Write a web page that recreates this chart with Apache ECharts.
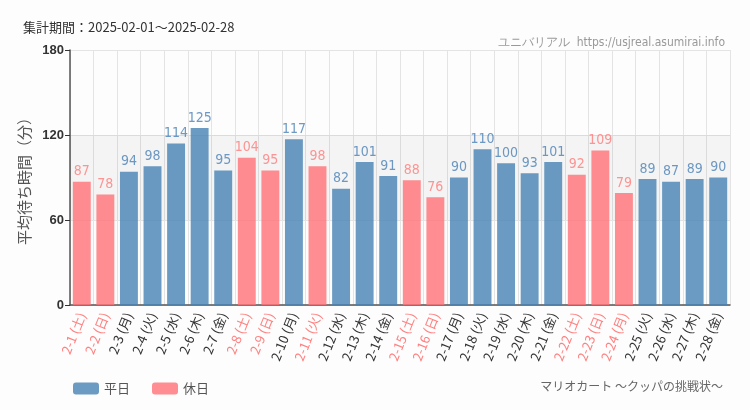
<!DOCTYPE html>
<html><head><meta charset="utf-8">
<script src="https://cdn.jsdelivr.net/npm/echarts@6/dist/echarts.min.js"></script>
<style>html,body{margin:0;padding:0;background:#fcfdfc;}#c{width:750px;height:410px;}</style>
</head><body><div id="c"></div>
<script>
const dates = ['2-1','2-2','2-3','2-4','2-5','2-6','2-7','2-8','2-9','2-10','2-11','2-12','2-13','2-14','2-15','2-16','2-17','2-18','2-19','2-20','2-21','2-22','2-23','2-24','2-25','2-26','2-27','2-28'];
const weekdays = ['土','日','月','火','水','木','金','土','日','月','火','水','木','金','土','日','月','火','水','木','金','土','日','月','火','水','木','金'];
const values = [87,78,94,98,114,125,95,104,95,117,98,82,101,91,88,76,90,110,100,93,101,92,109,79,89,87,89,90];
const holidays = [1,1,0,0,0,0,0,1,1,0,1,0,0,0,1,1,0,0,0,0,0,1,1,1,0,0,0,0];
const yTicks = [0,60,120,180];

const categories = dates.map((d,i)=>d+' ('+weekdays[i]+')');
const weekdaySeries = values.map((v,i)=>holidays[i]?'-':v);
const holidaySeries = values.map((v,i)=>holidays[i]?v:'-');

const chart = echarts.init(document.getElementById('c'), null, {renderer:'canvas'});
const narrow = '"DejaVu Sans Condensed", "Roboto", sans-serif';
const jp = '"Noto Sans CJK JP", sans-serif';
chart.setOption({
  backgroundColor:'#fcfdfc',
  animation:false,
  title:[
    {text:'集計期間：2025-02-01～2025-02-28', left:18, top:16, textStyle:{fontSize:13, fontWeight:'normal', color:'#333', fontFamily:jp}},
    {text:'ユニバリアル  https://usjreal.asumirai.info', right:20, top:32, textStyle:{fontSize:12, fontWeight:'normal', color:'#999', fontFamily:narrow}},
    {text:'マリオカート ～クッパの挑戦状～', right:22, top:375, textStyle:{fontSize:12, fontWeight:'normal', color:'#666', fontFamily:jp}}
  ],
  legend:{
    left:68, top:377, itemWidth:26, itemHeight:12, itemGap:22,
    textStyle:{fontSize:13, color:'#555', fontFamily:jp},
    data:['平日','休日']
  },
  grid:{left:70, right:20, top:50, bottom:105, containLabel:false},
  xAxis:{
    type:'category', data:categories,
    axisLine:{lineStyle:{color:'#555', width:1.5}},
    axisTick:{alignWithLabel:true, lineStyle:{color:'#333'}},
    splitLine:{show:true, interval:0, lineStyle:{color:'#e4e4e4'}},
    axisLabel:{
      interval:0, rotate:68, fontSize:13, margin:8,
      fontFamily:jp,
      color:(val, idx)=> holidays[idx] ? '#ff8080' : '#333'
    }
  },
  yAxis:{
    type:'value', min:0, max:180, interval:60,
    name:'平均待ち時間（分）', nameLocation:'middle', nameGap:33, nameRotate:90,
    nameTextStyle:{fontSize:15, color:'#555', fontFamily:jp},
    axisLine:{show:true, lineStyle:{color:'#555', width:1.5}},
    axisTick:{show:true, length:5, lineStyle:{color:'#333'}},
    axisLabel:{fontSize:13, color:'#333', fontWeight:'bold', margin:6,
      formatter:v=> yTicks.includes(v)? String(v):''},
    splitLine:{show:true, lineStyle:{color:'#e4e4e4'}}
  },
  series:[
    {name:'平日', type:'bar', stack:'a', data:weekdaySeries, barWidth:'76%',
      itemStyle:{color:'#4682b4', opacity:0.8},
      label:{show:true, position:'top', distance:3, color:'#4a80b6', fontSize:14, fontFamily:narrow},
      markArea:{silent:true, itemStyle:{color:'rgba(0,0,0,0.035)'}, data:[[{yAxis:60},{yAxis:120}]]}
    },
    {name:'休日', type:'bar', stack:'a', data:holidaySeries, barWidth:'76%',
      itemStyle:{color:'#ff7075', opacity:0.8},
      label:{show:true, position:'top', distance:3, color:'#ff7a7a', fontSize:14, fontFamily:narrow}
    }
  ]
});
</script></body></html>
